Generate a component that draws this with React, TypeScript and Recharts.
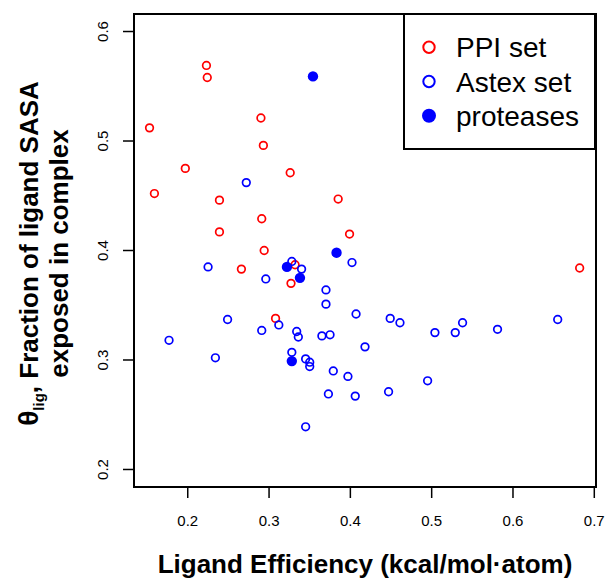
import React from "react";
import {
  Legend,
  ReferenceArea,
  Scatter,
  ScatterChart,
  XAxis,
  YAxis,
} from "recharts";

const FONT = "'Liberation Sans', Arial, Helvetica, sans-serif";
const RED = "#ff0000";
const BLUE = "#0000ff";

// Axis ranges (R pads the limits by 4%).
const X_DOMAIN: [number, number] = [0.1339, 0.7021];
const Y_DOMAIN: [number, number] = [0.184, 0.616];
const X_TICKS = [0.2, 0.3, 0.4, 0.5, 0.6, 0.7];
const Y_TICKS = [0.2, 0.3, 0.4, 0.5, 0.6];

const SERIES_ORDER = ["PPI set", "Astex set", "proteases"];

// PPI set
const ppiLE = [
  0.223, 0.224, 0.153, 0.29, 0.293, 0.197, 0.326, 0.159, 0.239, 0.385,
  0.291, 0.239, 0.399, 0.294, 0.266, 0.332, 0.327, 0.308, 0.682,
];
const ppiTheta = [
  0.569, 0.558, 0.512, 0.521, 0.496, 0.475, 0.471, 0.452, 0.446, 0.447,
  0.429, 0.417, 0.415, 0.4, 0.383, 0.387, 0.37, 0.338, 0.384,
];

// Astex set
const astexLE = [
  0.272, 0.225, 0.402, 0.328, 0.34, 0.296, 0.37, 0.37, 0.407, 0.249,
  0.312, 0.291, 0.334, 0.336, 0.365, 0.375, 0.177, 0.418, 0.234, 0.328,
  0.345, 0.35, 0.35, 0.379, 0.397, 0.373, 0.406, 0.345, 0.449, 0.461,
  0.504, 0.529, 0.538, 0.581, 0.655, 0.495, 0.447,
];
const astexTheta = [
  0.462, 0.385, 0.389, 0.39, 0.383, 0.374, 0.364, 0.351, 0.342, 0.337,
  0.332, 0.327, 0.326, 0.321, 0.322, 0.323, 0.318, 0.312, 0.302, 0.307,
  0.301, 0.298, 0.294, 0.29, 0.285, 0.269, 0.267, 0.239, 0.338, 0.334,
  0.325, 0.325, 0.334, 0.328, 0.337, 0.281, 0.271,
];

// proteases (subset of Astex)
const proteaseLE = [0.354, 0.383, 0.322, 0.338, 0.328];
const proteaseTheta = [0.559, 0.398, 0.385, 0.375, 0.299];

const zip = (xs: number[], ys: number[]) => xs.map((x, i) => ({ x, y: ys[i] }));

const ppiData = zip(ppiLE, ppiTheta);
const astexData = zip(astexLE, astexTheta);
const proteaseData = zip(proteaseLE, proteaseTheta);

const openCircle = (color: string) => (p: any) => (
  <circle cx={p.cx} cy={p.cy} r={3.8} fill="none" stroke={color} strokeWidth={1.7} />
);
const filledCircle = (color: string) => (p: any) => (
  <circle cx={p.cx} cy={p.cy} r={5.2} fill={color} stroke="none" />
);

function YTick(props: any) {
  const { y, payload } = props;
  return (
    <text
      transform={`translate(108.3,${y}) rotate(-90)`}
      textAnchor="middle"
      fontSize={15}
      fontFamily={FONT}
      fill="#000"
    >
      {payload.value.toFixed(1)}
    </text>
  );
}

function XTitle(props: any) {
  const vb = props.viewBox || { x: 134, width: 462 };
  return (
    <text
      x={vb.x + vb.width / 2}
      y={573}
      textAnchor="middle"
      fontSize={26}
      fontWeight="bold"
      fontFamily={FONT}
      fill="#000"
    >
      Ligand Efficiency (kcal/mol·atom)
    </text>
  );
}

function YTitle(props: any) {
  const vb = props.viewBox || { y: 14, height: 473 };
  const cy = vb.y + vb.height / 2 + 3;
  return (
    <g fontFamily={FONT} fontWeight="bold" fill="#000">
      <text transform={`translate(37.5,${cy}) rotate(-90)`} textAnchor="middle" fontSize={26}>
        <tspan fontSize={28}>θ</tspan>
        <tspan fontSize={15} dy={6.5}>lig</tspan>
        <tspan dy={-6.5}>, Fraction of ligand SASA</tspan>
      </text>
      <text transform={`translate(68,${cy}) rotate(-90)`} textAnchor="middle" fontSize={26}>
        exposed in complex
      </text>
    </g>
  );
}

function LegendBox({ payload }: any) {
  const items = [...(payload || [])].sort(
    (a: any, b: any) => SERIES_ORDER.indexOf(a.value) - SERIES_ORDER.indexOf(b.value)
  );
  return (
    <svg width={193} height={137} style={{ display: "block" }}>
      <rect x={1} y={1} width={191} height={135} fill="#fff" stroke="#000" strokeWidth={2} />
      {items.map((item: any, i: number) => {
        const cy = 34.3 + i * 34.2;
        const filled = item.value === "proteases";
        return (
          <g key={item.value}>
            {filled ? (
              <circle cx={26} cy={cy} r={7} fill={BLUE} />
            ) : (
              <circle cx={26} cy={cy} r={5.7} fill="none" stroke={item.color} strokeWidth={2} />
            )}
            <text x={53} y={cy + 10} fontSize={28} fontFamily={FONT} fill="#000">
              {item.value}
            </text>
          </g>
        );
      })}
    </svg>
  );
}

export default function App() {
  return (
    <div style={{ position: "absolute", left: 0, top: 0, width: 609, height: 580, background: "#fff" }}>
      <ScatterChart
        width={609}
        height={580}
        margin={{ top: 14, right: 13, bottom: 0, left: 0 }}
      >
        <XAxis
          type="number"
          dataKey="x"
          domain={X_DOMAIN}
          ticks={X_TICKS}
          allowDataOverflow
          height={93}
          axisLine={false}
          tickSize={11}
          tickLine={{ stroke: "#000", strokeWidth: 1.5 }}
          tickMargin={17}
          tick={{ fontSize: 15, fill: "#000", fontFamily: FONT }}
          tickFormatter={(v: number) => v.toFixed(1)}
          label={<XTitle />}
        />
        <YAxis
          type="number"
          dataKey="y"
          domain={Y_DOMAIN}
          ticks={Y_TICKS}
          allowDataOverflow
          width={134}
          axisLine={false}
          tickSize={11}
          tickLine={{ stroke: "#000", strokeWidth: 1.5 }}
          tick={<YTick />}
          label={<YTitle />}
        />
        <ReferenceArea
          x1={X_DOMAIN[0]}
          x2={X_DOMAIN[1]}
          y1={Y_DOMAIN[0]}
          y2={Y_DOMAIN[1]}
          fill="none"
          stroke="#000"
          strokeWidth={2}
        />
        <Legend
          layout="horizontal"
          verticalAlign="middle"
          align="center"
          wrapperStyle={{ position: "absolute", left: 403, top: 13, width: 193, height: 137 }}
          content={<LegendBox />}
        />
        <Scatter
          name="PPI set"
          data={ppiData}
          fill={RED}
          shape={openCircle(RED)}
          isAnimationActive={false}
        />
        <Scatter
          name="Astex set"
          data={astexData}
          fill={BLUE}
          shape={openCircle(BLUE)}
          isAnimationActive={false}
        />
        <Scatter
          name="proteases"
          data={proteaseData}
          fill={BLUE}
          shape={filledCircle(BLUE)}
          isAnimationActive={false}
        />
      </ScatterChart>
    </div>
  );
}
